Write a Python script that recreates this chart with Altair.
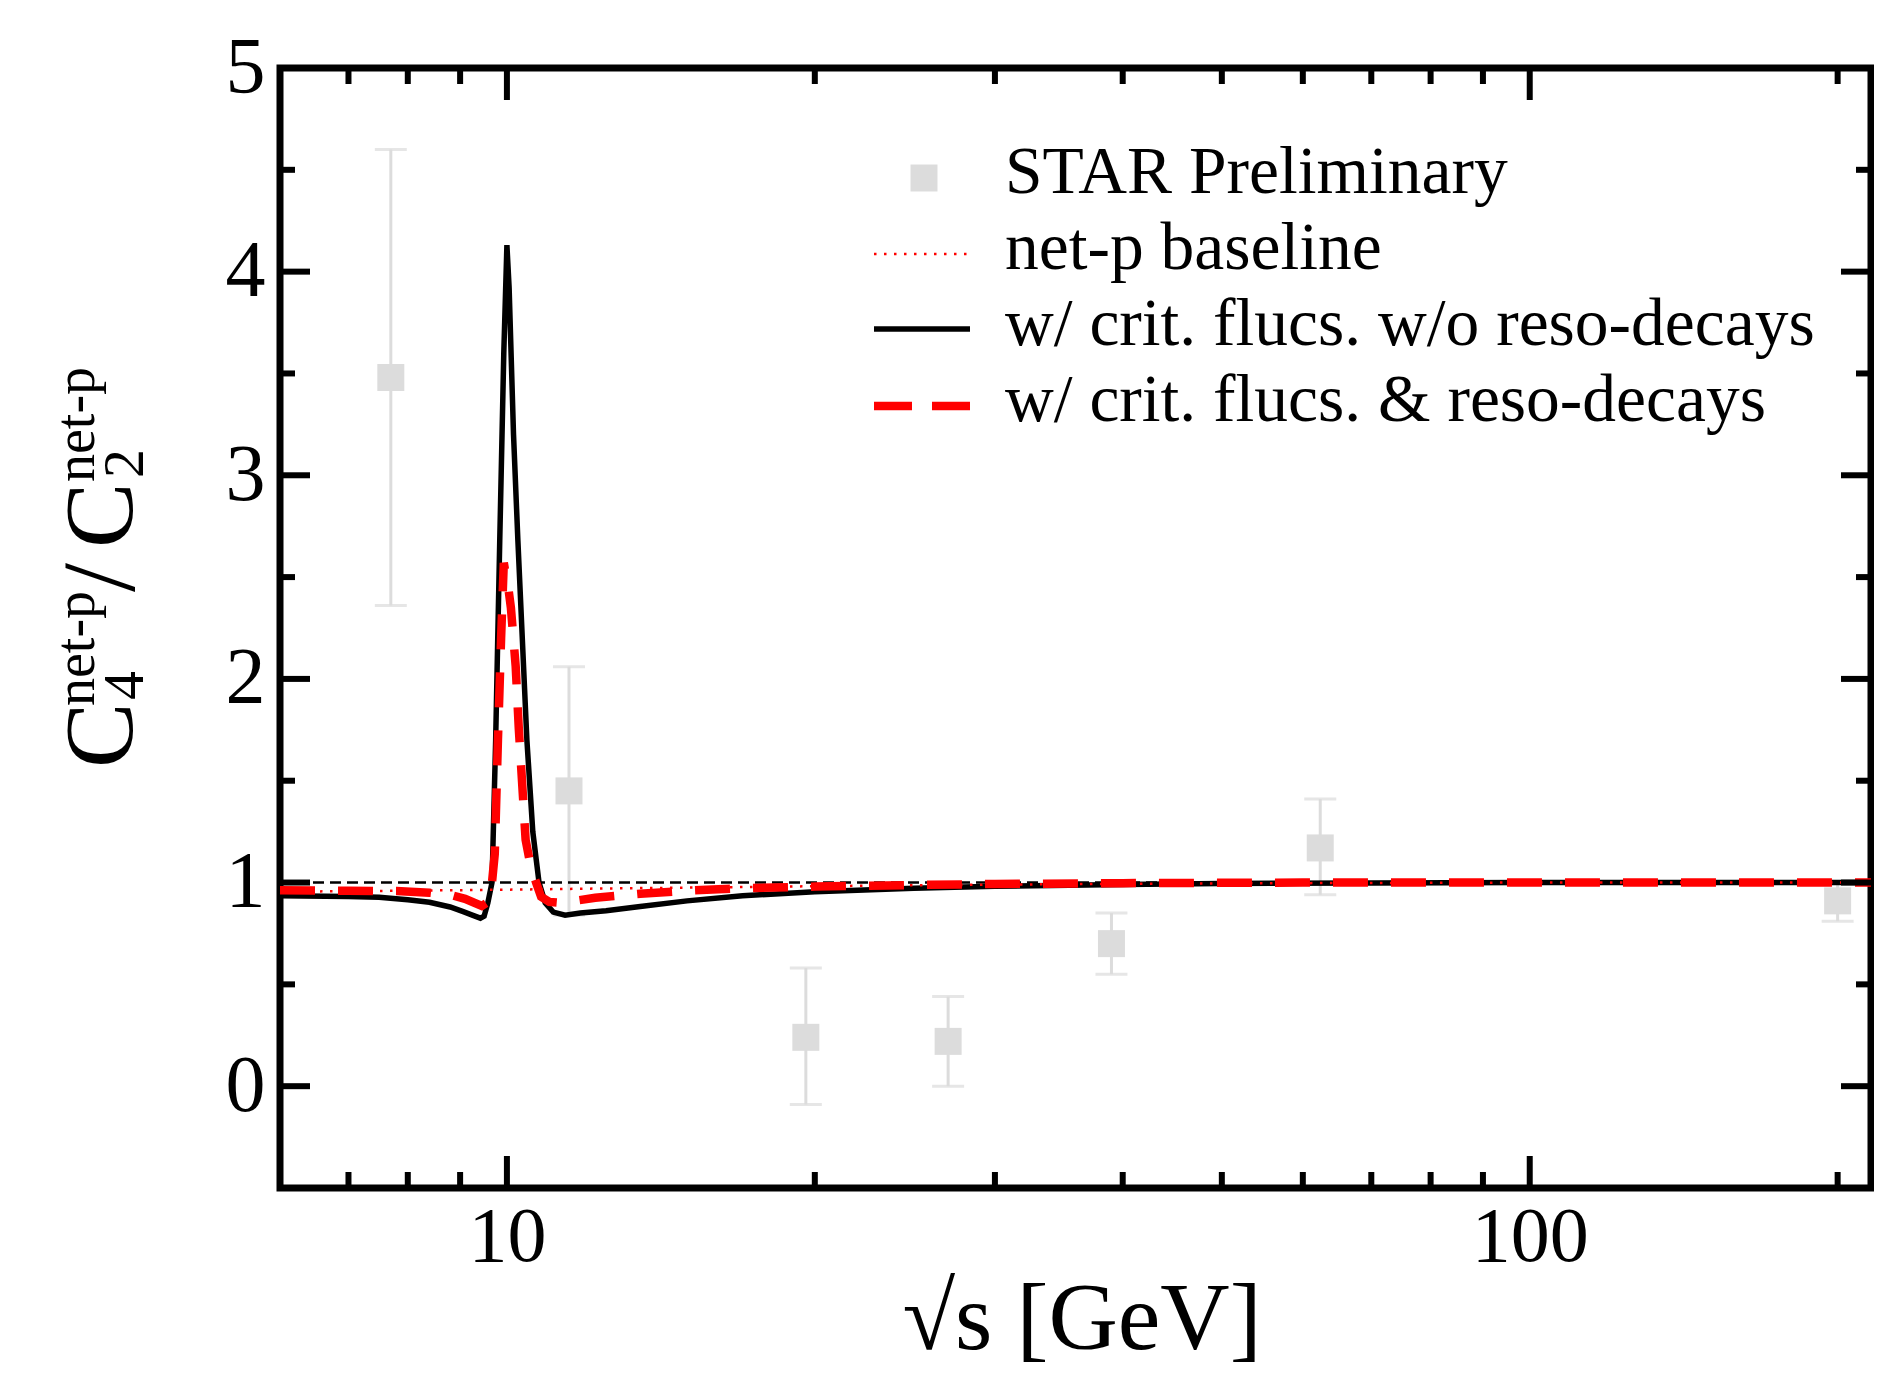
import altair as alt
import pandas as pd

# ---------------- data ----------------
star_x = [7.7, 11.5, 19.6, 27.0, 39.0, 62.4, 200.0]
star_y = [3.48, 1.45, 0.24, 0.22, 0.70, 1.17, 0.91]
star_lo = [2.36, 0.84, -0.09, 0.00, 0.55, 0.94, 0.81]
star_hi = [4.60, 2.06, 0.58, 0.44, 0.85, 1.41, 1.00]

# w/ crit. flucs. w/o reso-decays (black solid)
crit_x = [6.0, 7.0, 7.5, 8.0, 8.4, 8.8, 9.05, 9.25, 9.42, 9.5, 9.58, 9.67, 9.75, 9.84,
          9.93, 10.0, 10.05, 10.15, 10.25, 10.46, 10.6, 10.75, 10.9, 11.1, 11.4, 11.8,
          12.5, 13.5, 15.0, 17.0, 20.0, 25.0, 30.0, 40.0, 50.0, 70.0, 100.0, 215.6]
crit_y = [0.935, 0.932, 0.928, 0.915, 0.903, 0.88, 0.858, 0.84, 0.825, 0.835, 0.9, 1.0, 1.7, 2.68,
          3.6, 4.13, 3.92, 3.2, 2.68, 1.7, 1.25, 1.0, 0.9, 0.855, 0.84, 0.85,
          0.862, 0.882, 0.91, 0.935, 0.955, 0.972, 0.982, 0.99, 0.995, 0.998, 1.0, 1.0]

# w/ crit. flucs. & reso-decays (red dashed)
reso_x = [6.0, 7.0, 7.8, 8.4, 8.8, 9.1, 9.45, 9.55, 9.67, 9.73, 9.8, 9.87, 9.93, 9.97,
          10.0, 10.09, 10.2, 10.27, 10.43, 10.55, 10.68, 10.8, 11.0, 11.3, 12.2, 13.5,
          15.0, 17.0, 20.0, 25.0, 30.0, 40.0, 60.0, 215.6]
reso_y = [0.962, 0.96, 0.958, 0.95, 0.94, 0.92, 0.885, 0.9, 1.0, 1.14, 1.7, 2.2, 2.57, 2.52,
          2.5, 2.35, 2.06, 1.76, 1.21, 1.08, 1.0, 0.93, 0.905, 0.9, 0.925, 0.945,
          0.96, 0.972, 0.98, 0.988, 0.993, 0.997, 1.0, 1.0]

# net-p baseline (red dotted)
base_x = [6.0, 8.0, 10.0, 12.0, 15.0, 20.0, 30.0, 50.0, 100.0, 215.6]
base_y = [0.955, 0.96, 0.965, 0.97, 0.975, 0.982, 0.99, 0.996, 1.0, 1.0]

x_major = [10, 100]
x_minor = [7, 8, 9, 20, 30, 40, 50, 60, 70, 80, 90, 200]
y_major = [0, 1, 2, 3, 4, 5]
y_minor = [0.5, 1.5, 2.5, 3.5, 4.5]

legend_labels = ["STAR Preliminary", "net-p baseline",
                 "w/ crit. flucs. w/o reso-decays", "w/ crit. flucs. & reso-decays"]

W, H = 1591, 1120
FONT = "Liberation Serif"
GRAY = "#dcdcdc"

star = pd.DataFrame({"x": star_x, "y": star_y, "lo": star_lo, "hi": star_hi})
crit = pd.DataFrame({"x": crit_x, "y": crit_y})
reso = pd.DataFrame({"x": reso_x, "y": reso_y})
base = pd.DataFrame({"x": base_x, "y": base_y})
one = pd.DataFrame({"a": [0]})

xscale = alt.Scale(type="log", domain=[6, 215.6], nice=False)
yscale = alt.Scale(domain=[-0.5, 5], nice=False, zero=False)
xaxis = alt.Axis(values=x_major, format="d", title=None, ticks=False, tickSize=0,
                 domain=False, grid=False, labelFont=FONT, labelFontSize=78,
                 labelColor="black", labelBaseline="alphabetic", labelPadding=72,
                 labelFlush=False)
yaxis = alt.Axis(values=y_major, format="d", title=None, ticks=False, tickSize=0,
                 domain=False, grid=False, labelFont=FONT, labelFontSize=80,
                 labelColor="black", labelPadding=15)


def X(f):
    return alt.X(f"{f}:Q", scale=xscale, axis=xaxis)


def Y(f):
    return alt.Y(f"{f}:Q", scale=yscale, axis=yaxis)


layers = []

# STAR points with error bars
layers.append(alt.Chart(star).mark_rule(color=GRAY, strokeWidth=3).encode(
    x=X("x"), y=Y("lo"), y2="hi"))
layers.append(alt.Chart(star).mark_tick(color=GRAY, orient="horizontal", size=32, thickness=3).encode(
    x=X("x"), y=Y("lo")))
layers.append(alt.Chart(star).mark_tick(color=GRAY, orient="horizontal", size=32, thickness=3).encode(
    x=X("x"), y=Y("hi")))
layers.append(alt.Chart(star).mark_square(color=GRAY, size=729, opacity=1).encode(
    x=X("x"), y=Y("y")))

# reference line at 1
layers.append(alt.Chart(one).mark_rule(color="black", strokeWidth=2.5, strokeDash=[11, 6]).encode(
    y=alt.datum(1, scale=yscale, axis=yaxis)))

# curves
layers.append(alt.Chart(crit).mark_line(color="black", strokeWidth=5.5).encode(
    x=X("x"), y=Y("y")))
layers.append(alt.Chart(base).mark_line(color="red", strokeWidth=2.5, strokeDash=[2.5, 7.5]).encode(
    x=X("x"), y=Y("y")))
layers.append(alt.Chart(reso).mark_line(color="red", strokeWidth=8.5, strokeDash=[35, 23]).encode(
    x=X("x"), y=Y("y")))

# inward ticks
xmaj = pd.DataFrame({"v": x_major})
xmin = pd.DataFrame({"v": x_minor})
ymaj = pd.DataFrame({"v": y_major})
ymin = pd.DataFrame({"v": y_minor})
TK = dict(color="black", strokeWidth=6)
for df, L in ((xmaj, 32), (xmin, 16)):
    layers.append(alt.Chart(df).mark_rule(**TK).encode(x=X("v"), y=alt.value(H), y2=alt.value(H - L)))
    layers.append(alt.Chart(df).mark_rule(**TK).encode(x=X("v"), y=alt.value(0), y2=alt.value(L)))
for df, L in ((ymaj, 30), (ymin, 15)):
    layers.append(alt.Chart(df).mark_rule(**TK).encode(y=Y("v"), x=alt.value(0), x2=alt.value(L)))
    layers.append(alt.Chart(df).mark_rule(**TK).encode(y=Y("v"), x=alt.value(W), x2=alt.value(W - L)))

# legend (manual)
LX0, LX1, TX = 594, 690, 725
rows = [125, 201, 277, 353]
layers.append(alt.Chart(one).mark_square(color=GRAY, size=729, opacity=1).encode(
    x=alt.value(644), y=alt.value(110)))
layers.append(alt.Chart(one).mark_rule(color="red", strokeWidth=2.5, strokeDash=[2.5, 7.5]).encode(
    x=alt.value(LX0), x2=alt.value(LX1), y=alt.value(186)))
layers.append(alt.Chart(one).mark_rule(color="black", strokeWidth=5.5).encode(
    x=alt.value(LX0), x2=alt.value(LX1), y=alt.value(261)))
layers.append(alt.Chart(one).mark_rule(color="red", strokeWidth=8.5, strokeDash=[38, 20]).encode(
    x=alt.value(LX0), x2=alt.value(LX1), y=alt.value(338)))
for lab, yy in zip(legend_labels, rows):
    layers.append(alt.Chart(one).mark_text(text=lab, font=FONT, fontSize=67.5, align="left",
                                           baseline="alphabetic", color="black").encode(
        x=alt.value(TX), y=alt.value(yy)))

# x title
layers.append(alt.Chart(one).mark_text(text="√s [GeV]", font=FONT, fontSize=96, align="center",
                                       baseline="alphabetic", color="black").encode(
    x=alt.value(802), y=alt.value(1281)))

# y title pieces (rotated)
ytitle = [("C", -148, 700, 98), ("4", -137, 632, 58), ("net-p", -186, 638, 56),
          ("/", -146, 524, 104), ("C", -148, 480, 98), ("2", -137, 410, 58),
          ("net-p", -186, 414, 56)]
for t, xx, yy, fs in ytitle:
    layers.append(alt.Chart(one).mark_text(text=t, font=FONT, fontSize=fs, align="left",
                                           baseline="alphabetic", angle=270, color="black").encode(
        x=alt.value(xx), y=alt.value(yy)))

chart = alt.layer(*layers).properties(
    width=W, height=H,
    autosize=alt.AutoSizeParams(type="none"),
    padding={"left": 272, "top": 60, "right": 3, "bottom": 183},
    background="white",
).configure_view(stroke="black", strokeWidth=7)

chart.save("out.html", embed_options={"renderer": "svg", "actions": False})
